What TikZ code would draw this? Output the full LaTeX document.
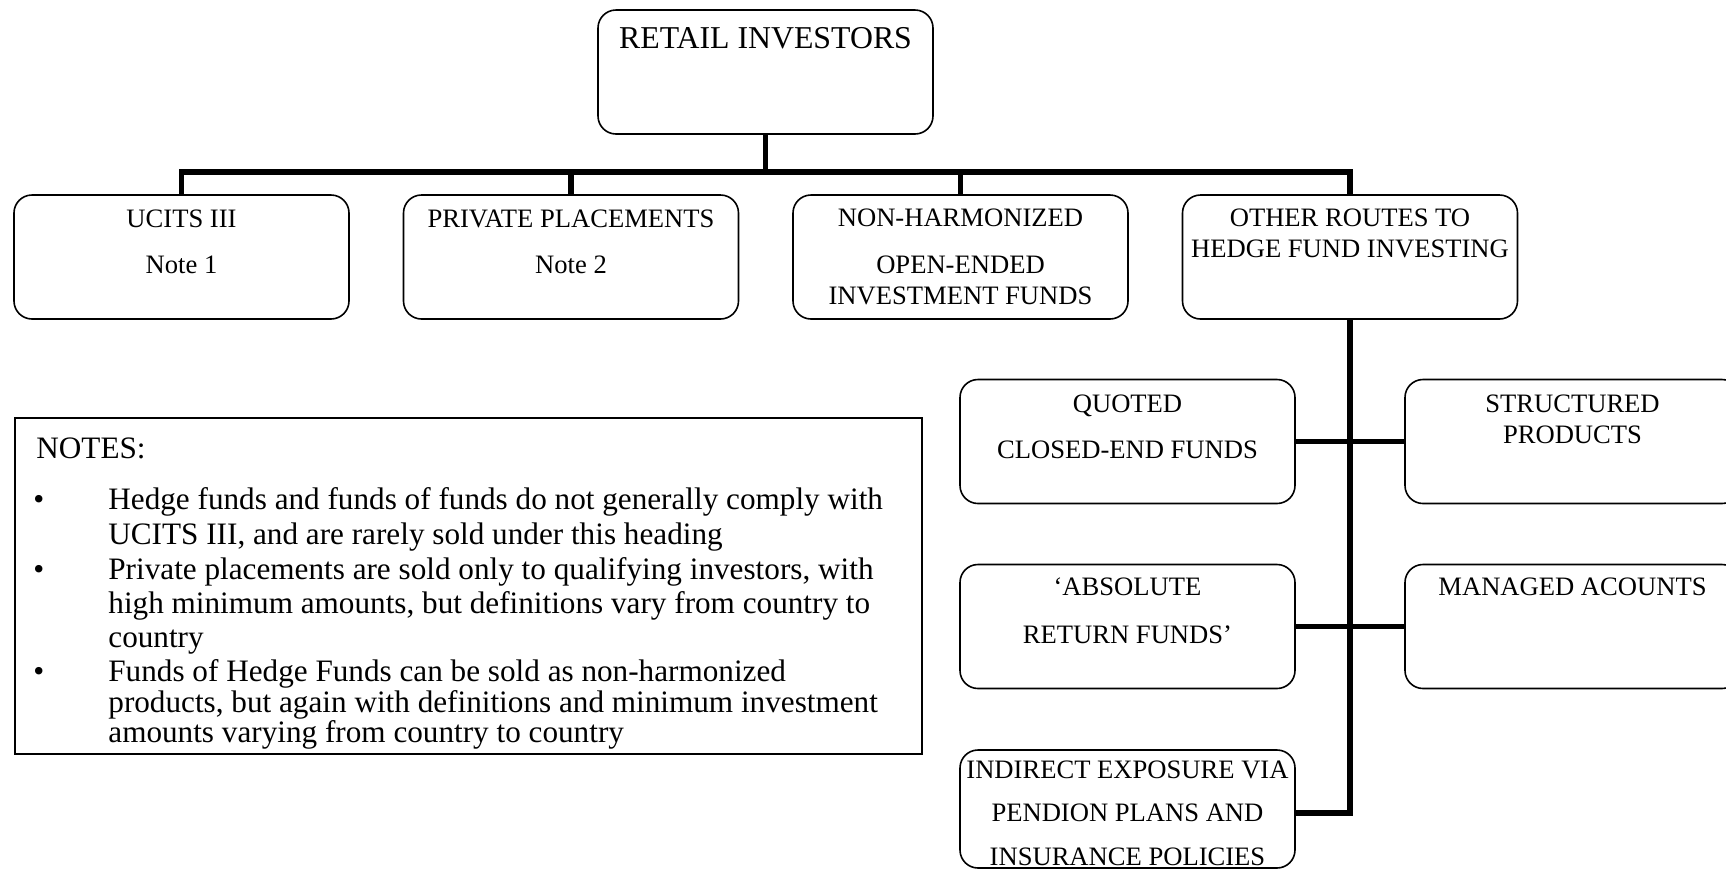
\documentclass[tikz,border=0pt]{standalone}
\usepackage{fontspec}
\setmainfont{Liberation Serif}
\begin{document}
\begin{tikzpicture}[x=0.5pt,y=-0.5pt,
  box/.style={draw, line width=0.8pt, rounded corners=9pt, minimum width=167.5pt, minimum height=62pt, inner sep=0pt, outer sep=0pt},
  conn/.style={line width=2.6pt, line join=miter},
  btxt/.style={anchor=base, inner sep=0pt, font=\fontsize{13.3}{15.5}\selectfont},
  ntxt/.style={anchor=base west, inner sep=0pt, font=\fontsize{15.6}{18}\selectfont}]
\useasboundingbox (0,0) rectangle (1726,869);
\clip (0,0) rectangle (1726,869);

% top
\node[box] (retail) at (765.5,72) {};
\node[btxt, font=\fontsize{15.9}{18}\selectfont] (retailt) at (765.5,48) {RETAIL INVESTORS};

% row 1
\node[box] (ucits) at (181.5,257) {};
\node[btxt] (ucitst) at (181.5,227) {\begin{tabular}[t]{@{}c@{}}UCITS III\\[7.5pt]Note 1\end{tabular}};
\node[box] (private) at (571,257) {};
\node[btxt] (privatet) at (571,227) {\begin{tabular}[t]{@{}c@{}}PRIVATE PLACEMENTS\\[7.5pt]Note 2\end{tabular}};
\node[box] (nonh) at (960.5,257) {};
\node[btxt] (nonht) at (960.5,226) {\begin{tabular}[t]{@{}c@{}}NON-HARMONIZED\\[8pt]OPEN-ENDED\\INVESTMENT FUNDS\end{tabular}};
\node[box] (other) at (1350,257) {};
\node[btxt] (othert) at (1350,226) {\begin{tabular}[t]{@{}c@{}}OTHER ROUTES TO\\HEDGE FUND INVESTING\end{tabular}};

% right column
\node[box] (quoted) at (1127.5,441.5) {};
\node[btxt] (quotedt) at (1127.5,412) {\begin{tabular}[t]{@{}c@{}}QUOTED\\[7.5pt]CLOSED-END FUNDS\end{tabular}};
\node[box] (struct) at (1572.5,441.5) {};
\node[btxt] (structt) at (1572.5,412) {\begin{tabular}[t]{@{}c@{}}STRUCTURED\\PRODUCTS\end{tabular}};
\node[box] (absolute) at (1127.5,626.5) {};
\node[btxt] (absolutet) at (1127.5,595) {\begin{tabular}[t]{@{}c@{}}‘ABSOLUTE\\[8.5pt]RETURN FUNDS’\end{tabular}};
\node[box] (managed) at (1572.5,626.5) {};
\node[btxt] (managedt) at (1572.5,595) {MANAGED ACOUNTS};
\node[box, minimum height=59pt] (indirect) at (1127.5,809) {};
\node[btxt] (indirectt) at (1127.5,778) {\begin{tabular}[t]{@{}c@{}}INDIRECT EXPOSURE VIA\\[6.3pt]PENDION PLANS AND\\[6.3pt]INSURANCE POLICIES\end{tabular}};

% connectors
\coordinate (bary) at (0,172);
\coordinate (tend) at (1350,813);
\draw[conn] (retail.south) -- (retail.south |- bary);
\draw[conn] (ucits.north) -- (ucits.north |- bary) -- (other.north |- bary) -- (other.north);
\draw[conn] (private.north) -- (private.north |- bary);
\draw[conn] (nonh.north) -- (nonh.north |- bary);
\draw[conn] (other.south) -- (tend) -- (tend -| indirect.east);
\draw[conn] (quoted.east) -- (struct.west);
\draw[conn] (absolute.east) -- (managed.west);

% notes
\node[draw, line width=0.7pt, minimum width=453.5pt, minimum height=168pt, inner sep=0pt] (notes) at (468.5,586) {};
\node[ntxt] (nh) at (36,458) {NOTES:};
\node[ntxt] (b1) at (33,509) {•};
\node[ntxt] (l1) at (108,509) {Hedge funds and funds of funds do not generally comply with};
\node[ntxt] (l2) at (108,544) {UCITS III, and are rarely sold under this heading};
\node[ntxt] (b2) at (33,579) {•};
\node[ntxt] (l3) at (108,579) {Private placements are sold only to qualifying investors, with};
\node[ntxt] (l4) at (108,613) {high minimum amounts, but definitions vary from country to};
\node[ntxt] (l5) at (108,647) {country};
\node[ntxt] (b3) at (33,681) {•};
\node[ntxt] (l6) at (108,681) {Funds of Hedge Funds can be sold as non-harmonized};
\node[ntxt] (l7) at (108,712) {products, but again with definitions and minimum investment};
\node[ntxt] (l8) at (108,742) {amounts varying from country to country};
\end{tikzpicture}
\end{document}
